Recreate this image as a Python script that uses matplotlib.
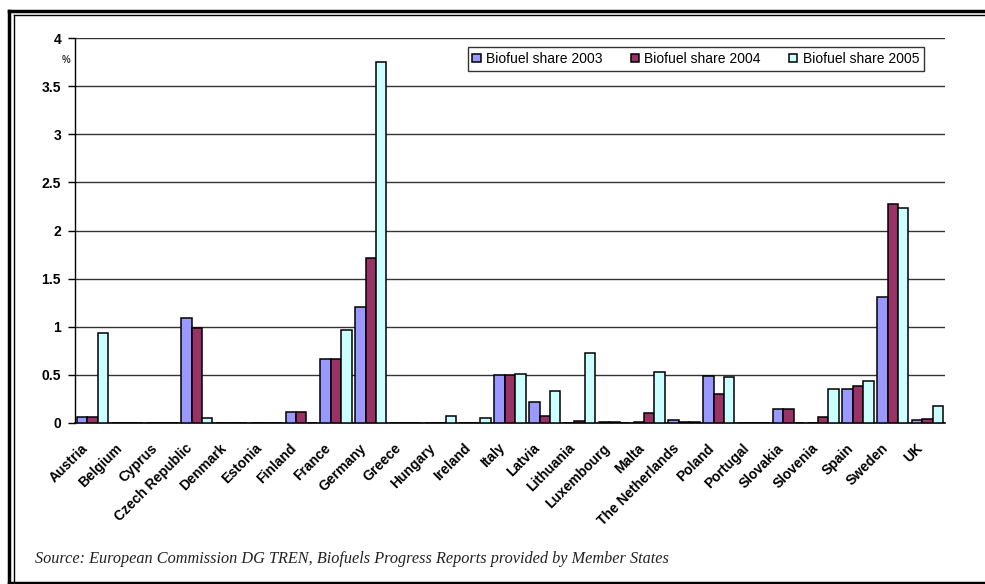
import numpy as np
import matplotlib.pyplot as plt
from matplotlib.lines import Line2D
from matplotlib.transforms import ScaledTranslation

# Biofuel share (%) per member state
countries = ['Austria', 'Belgium', 'Cyprus', 'Czech Republic', 'Denmark', 'Estonia',
             'Finland', 'France', 'Germany', 'Greece', 'Hungary', 'Ireland', 'Italy',
             'Latvia', 'Lithuania', 'Luxembourg', 'Malta', 'The Netherlands', 'Poland',
             'Portugal', 'Slovakia', 'Slovenia', 'Spain', 'Sweden', 'UK']
share_2003 = [0.065, 0, 0, 1.09, 0, 0, 0.11, 0.67, 1.21, 0, 0, 0, 0.495,
              0.22, 0, 0.01, 0.01, 0.03, 0.49, 0, 0.15, 0, 0.35, 1.31, 0.03]
share_2004 = [0.065, 0, 0, 0.99, 0, 0, 0.11, 0.665, 1.71, 0, 0, 0, 0.495,
              0.075, 0.02, 0.01, 0.10, 0.01, 0.30, 0, 0.15, 0.065, 0.385, 2.28, 0.04]
share_2005 = [0.93, 0, 0, 0.055, 0, 0, 0, 0.965, 3.75, 0, 0.075, 0.055, 0.51,
              0.335, 0.73, 0, 0.525, 0.01, 0.475, 0, 0, 0.35, 0.44, 2.23, 0.18]
series_labels = ['Biofuel share 2003', 'Biofuel share 2004', 'Biofuel share 2005']
colors = ['#9999FF', '#993366', '#CCFFFF']

fig = plt.figure(figsize=(9.85, 5.84), dpi=100)
ax = fig.add_axes([75 / 985, 1 - 423 / 584, 870 / 985, 385 / 584])

x = np.arange(len(countries))
w = 0.3
for i, (vals, lab, c) in enumerate(zip([share_2003, share_2004, share_2005], series_labels, colors)):
    ax.bar(x + (i - 1) * w, vals, width=w, color=c, edgecolor='black', linewidth=1.1,
           label=lab, zorder=3)

ax.set_xlim(-0.5, len(countries) - 0.5)
ax.set_ylim(0, 4)
ax.set_yticks(np.arange(0, 4.01, 0.5))
ax.set_yticklabels(['0', '0.5', '1', '1.5', '2', '2.5', '3', '3.5', '4'],
                   fontfamily='Liberation Sans', fontweight='bold', fontsize=10)
ax.yaxis.grid(True, color='#333333', linewidth=1.0, zorder=0)
ax.tick_params(axis='y', direction='out', length=5, width=1, pad=5)
ax.tick_params(axis='x', length=0, pad=13)
ax.set_xticks(x)
ax.set_xticklabels(countries, rotation=45, ha='right', rotation_mode='anchor',
                   fontfamily='Liberation Sans', fontweight='bold', fontsize=10)
shift = ScaledTranslation(-12 / 100, 0, fig.dpi_scale_trans)
for lbl in ax.get_xticklabels():
    lbl.set_transform(lbl.get_transform() + shift)
for s in ['top', 'right']:
    ax.spines[s].set_visible(False)
ax.spines['left'].set_linewidth(1.0)
ax.spines['bottom'].set_linewidth(1.2)

fig.text(66 / 985, 1 - 60 / 584, '%', fontsize=7, fontweight='bold',
         fontfamily='Liberation Sans', ha='center', va='center', color='#333333')

leg = ax.legend(loc='upper right', bbox_to_anchor=(924 / 985, 1 - 47 / 584),
                bbox_transform=fig.transFigure, ncol=3, frameon=True, fancybox=False,
                prop={'family': 'Liberation Sans', 'size': 10}, handlelength=0.6,
                handleheight=0.6, handletextpad=0.4, columnspacing=2.0,
                borderpad=0.35, borderaxespad=0)
leg.get_frame().set_edgecolor('black')
leg.get_frame().set_linewidth(1.0)

fig.text(35 / 985, 1 - 559 / 584,
         'Source: European Commission DG TREN, Biofuels Progress Reports provided by Member States',
         fontfamily='Liberation Serif', style='italic', fontsize=11.7, va='center', color='#222222')

# double frame around the figure
tf = fig.transFigure
fig.add_artist(Line2D([8.5 / 985, 1], [1 - 10.5 / 584] * 2, color='black', lw=2.5, transform=tf))
fig.add_artist(Line2D([13.5 / 985, 1], [1 - 15 / 584] * 2, color='black', lw=1.0, transform=tf))
fig.add_artist(Line2D([8.5 / 985] * 2, [1 - 10.5 / 584, 0], color='black', lw=2.5, transform=tf))
fig.add_artist(Line2D([13.5 / 985] * 2, [1 - 15 / 584, 0], color='black', lw=1.0, transform=tf))
fig.add_artist(Line2D([8.5 / 985, 1], [1 - 582.5 / 584] * 2, color='black', lw=2.5, transform=tf))

fig.savefig('out.png', dpi=100)
